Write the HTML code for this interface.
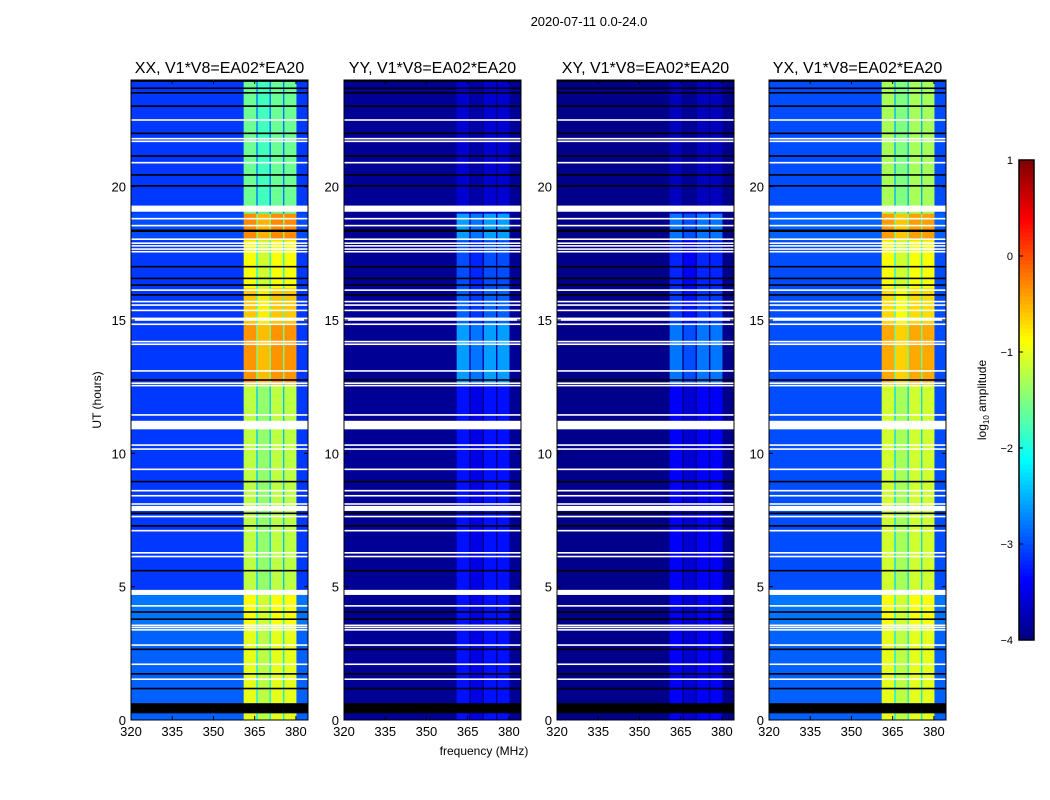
<!DOCTYPE html>
<html><head><meta charset="utf-8"><style>
html,body{margin:0;padding:0;background:#fff;width:1050px;height:800px;overflow:hidden}
text{font-family:"Liberation Sans",sans-serif;fill:#000}
</style></head><body>
<svg id="fig" width="1050" height="800" xmlns="http://www.w3.org/2000/svg">
<text x="589" y="26" font-size="13" text-anchor="middle">2020-07-11 0.0-24.0</text>
<text x="484" y="755" font-size="12" text-anchor="middle">frequency (MHz)</text>
<text transform="translate(101,400) rotate(-90)" font-size="12" text-anchor="middle">UT (hours)</text>
<g id="panels"></g>
<g id="cbar"></g>
</svg>
<script>
// ---- data ----
const panelTitles = ["XX, V1*V8=EA02*EA20","YY, V1*V8=EA02*EA20","XY, V1*V8=EA02*EA20","YX, V1*V8=EA02*EA20"];
const freqEdges = [320,361,365.6,366.1,370.4,370.9,375.3,375.8,380.2,384.4];
const colOffsets = [0,0,-1.2,-0.2,-1.2,0,-1.2,0,0];
const colIsBand = [0,1,1,1,1,1,1,1,0];
const timeEdges = [0,3.6,4.7,12.6,14.9,16.2,18.0,19.0,24];
const bgXX = [-2.9,-2.8,-3.1,-3.1,-3.1,-3.1,-3.0,-3.1];
const bandXX = [-1.0,-0.9,-1.2,-0.35,-0.6,-0.9,-0.3,-1.6];
const bgYY = [-3.9,-3.9,-3.9,-3.9,-3.9,-3.9,-3.9,-3.9];
const bandYY = [-3.3,-3.3,-3.3,-2.6,-2.9,-3.0,-2.6,-3.6];
const bgXY = [-3.95,-3.95,-3.95,-3.95,-3.95,-3.95,-3.95,-3.95];
const bandXY = [-3.4,-3.4,-3.4,-2.8,-3.1,-3.2,-2.8,-3.7];
const bgYX = [-2.9,-2.8,-3.0,-3.0,-3.0,-3.0,-2.9,-3.0];
const bandYX = [-1.0,-0.9,-1.1,-0.45,-0.7,-0.9,-0.4,-1.3];
const whiteGaps = [[22.47,22.53],[21.77,21.83],[21.67,21.73],[20.87,20.93],[19.06,19.29],[18.77,18.83],[18.51,18.57],[18.0,18.06],[17.85,17.91],[17.75,17.81],[17.63,17.69],[17.53,17.59],[16.09,16.15],[15.66,15.72],[15.53,15.59],[15.33,15.39],[14.97,15.09],[14.81,14.87],[14.16,14.22],[14.06,14.12],[13.06,13.12],[12.6,12.66],[12.51,12.57],[11.41,11.47],[10.9,11.22],[10.28,10.34],[10.13,10.19],[9.37,9.43],[8.57,8.63],[8.38,8.44],[8.07,8.13],[7.84,8.03],[7.6,7.66],[7.07,7.13],[6.24,6.3],[6.1,6.16],[4.69,4.88],[4.25,4.31],[3.52,3.58],[3.44,3.5],[3.35,3.41],[2.78,2.84],[2.06,2.12],[1.5,1.56]];
const blackRows = [[23.93,23.99],[23.66,23.72],[23.49,23.55],[22.99,23.05],[21.97,22.03],[21.12,21.18],[20.41,20.47],[20.0,20.06],[18.3,18.39],[16.97,17.03],[16.53,16.59],[16.28,16.34],[15.91,15.97],[12.72,12.78],[8.91,8.97],[7.72,7.78],[7.25,7.31],[5.57,5.63],[4.02,4.08],[3.75,3.81],[2.62,2.68],[1.7,1.76],[1.15,1.21],[0.25,0.63]];
const xTicks = [320,335,350,365,380];
const yTicks = [0,5,10,15,20];
const cbTicks = [1,0,-1,-2,-3,-4];
// ---- layout ----
const panelX = [131,344,557,769], PW = 177, PT = 80, PB = 720;
const fMin = 320, fMax = 384.4, tMin = 0, tMax = 24, vMin = -4, vMax = 1;
const bgs = [bgXX,bgYY,bgXY,bgYX], bands = [bandXX,bandYY,bandXY,bandYX];
const NS = "http://www.w3.org/2000/svg";
function jet(v){
  let t = Math.max(0,Math.min(1,(v-vMin)/(vMax-vMin)));
  const f = (a)=>Math.max(0,Math.min(1,a));
  const r = f(Math.min(4*t-1.5,-4*t+4.5)), g = f(Math.min(4*t-0.5,-4*t+3.5)), b = f(Math.min(4*t+0.5,-4*t+2.5));
  return `rgb(${Math.round(r*255)},${Math.round(g*255)},${Math.round(b*255)})`;
}
function mk(tag,attrs,parent){const e=document.createElementNS(NS,tag);for(const k in attrs)e.setAttribute(k,attrs[k]);parent.appendChild(e);return e;}
const panels = document.getElementById('panels');
panelX.forEach((px,p)=>{
  const xs = f => px + (f-fMin)/(fMax-fMin)*PW;
  const ys = t => PB - (t-tMin)/(tMax-tMin)*(PB-PT);
  const g = mk('g',{},panels);
  
  
  for(let s=0;s<timeEdges.length-1;s++){
    for(let c=0;c<freqEdges.length-1;c++){
      const v = (colIsBand[c]?bands[p][s]:bgs[p][s]) + colOffsets[c];
      const r = mk('rect',{x:xs(freqEdges[c]),y:ys(timeEdges[s+1]),width:xs(freqEdges[c+1])-xs(freqEdges[c])+0.3,height:ys(timeEdges[s])-ys(timeEdges[s+1])+0.3,fill:jet(v)},g);
      
      
    }
  }
  whiteGaps.forEach(w=>{
    const r = mk('rect',{x:px,y:ys(w[1]),width:PW,height:Math.max(1.5,ys(w[0])-ys(w[1])),fill:'#fff'},g);
    
    
  });
  blackRows.forEach(w=>{
    const r = mk('rect',{x:px,y:ys(w[1]),width:PW,height:Math.max(1.2,ys(w[0])-ys(w[1])),fill:'#000'},g);
    
    
  });
  const fr = mk('rect',{x:px,y:PT,width:PW,height:PB-PT,fill:'none',stroke:'#000','stroke-width':1},g);
  
  
  const tt = mk('text',{x:px+PW/2,y:73,'font-size':16,'text-anchor':'middle'},g);
  tt.textContent = panelTitles[p];
  
  
  xTicks.forEach(v=>{
    const x = xs(v);
    mk('line',{x1:x,x2:x,y1:PB,y2:PB-4,stroke:'#000'},g);
    mk('line',{x1:x,x2:x,y1:PT,y2:PT+4,stroke:'#000'},g);
    const t = mk('text',{x:x,y:PB+16,'font-size':13,'text-anchor':'middle'},g);
    t.textContent = v;
    
    
  });
  yTicks.forEach(v=>{
    const y = ys(v);
    mk('line',{x1:px,x2:px+4,y1:y,y2:y,stroke:'#000'},g);
    mk('line',{x1:px+PW,x2:px+PW-4,y1:y,y2:y,stroke:'#000'},g);
    const t = mk('text',{x:px-5,y:y+5,'font-size':13,'text-anchor':'end'},g);
    t.textContent = v;
    
    
  });
});
// colorbar
const cb = document.getElementById('cbar');
const CX=1019, CW=15, CT=160, CB=640;
const cys = v => CB - (v-vMin)/(vMax-vMin)*(CB-CT);
for(let i=0;i<120;i++){
  const v0 = vMin + (vMax-vMin)*i/120, v1 = vMin + (vMax-vMin)*(i+1)/120;
  const r = mk('rect',{x:CX,y:cys(v1),width:CW,height:cys(v0)-cys(v1)+0.5,fill:jet((v0+v1)/2)},cb);
  
  
}
const cf = mk('rect',{x:CX,y:CT,width:CW,height:CB-CT,fill:'none',stroke:'#000','stroke-width':1.5},cb);


cbTicks.forEach(v=>{
  const y = cys(v);
  mk('line',{x1:CX,x2:CX+4,y1:y,y2:y,stroke:'#000'},cb);
  const t = mk('text',{x:CX-6,y:y+4,'font-size':11,'text-anchor':'end'},cb);
  t.textContent = v<0 ? '\u2212'+(-v) : v;
  
  
});
const cl = mk('text',{transform:'translate(986,400) rotate(-90)','font-size':12,'text-anchor':'middle'},cb);
cl.innerHTML = 'log<tspan font-size="8" dy="3">10</tspan><tspan dy="-3"> amplitude</tspan>';


</script>
</body></html>
